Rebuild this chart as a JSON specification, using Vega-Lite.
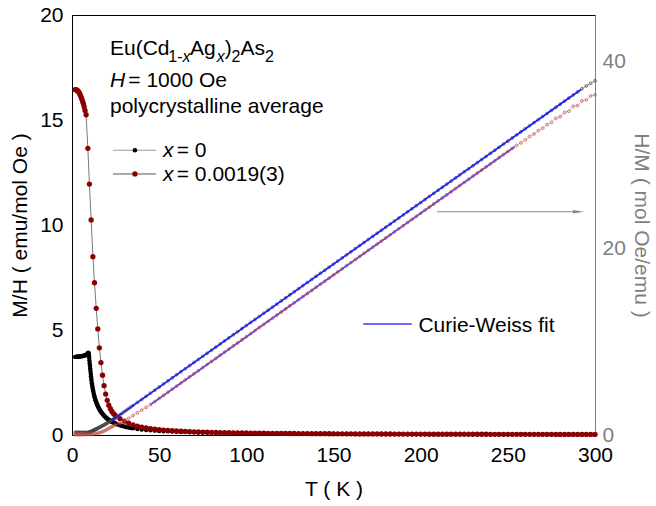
{
  "$schema": "https://vega.github.io/schema/vega-lite/v6.json",
  "width": 523,
  "height": 420,
  "autosize": {"type": "none"},
  "padding": {"left": 72, "top": 15, "right": 61, "bottom": 71},
  "background": "white",
  "config": {
    "font": "Liberation Sans",
    "view": {"stroke": "#000000", "strokeWidth": 1},
    "axis": {
      "labelFont": "Liberation Sans",
      "titleFont": "Liberation Sans",
      "labelFontSize": 21,
      "titleFontSize": 21,
      "titleFontWeight": "normal",
      "labelOverlap": false,
      "labelFlush": false,
      "ticks": false,
      "grid": false,
      "domainWidth": 1,
      "domainColor": "#000000",
      "labelColor": "#000000",
      "titleColor": "#000000"
    }
  },
  "datasets": {
    "x0": [{"T":1.8,"m":3.72,"h":0.269},{"T":2.2,"m":3.72,"h":0.269},{"T":2.6,"m":3.73,"h":0.268},{"T":3,"m":3.73,"h":0.268},{"T":3.4,"m":3.73,"h":0.268},{"T":3.8,"m":3.74,"h":0.267},{"T":4.2,"m":3.74,"h":0.267},{"T":4.6,"m":3.74,"h":0.267},{"T":5,"m":3.75,"h":0.267},{"T":5.4,"m":3.75,"h":0.267},{"T":5.8,"m":3.76,"h":0.266},{"T":6.2,"m":3.76,"h":0.266},{"T":6.6,"m":3.77,"h":0.265},{"T":7,"m":3.78,"h":0.265},{"T":7.4,"m":3.79,"h":0.264},{"T":7.8,"m":3.8,"h":0.263},{"T":8.2,"m":3.82,"h":0.262},{"T":8.6,"m":3.85,"h":0.26},{"T":9,"m":3.89,"h":0.257},{"T":9.4,"m":3.92,"h":0.255},{"T":9.55,"m":3.88,"h":0.258},{"T":9.7,"m":3.8,"h":0.263},{"T":9.85,"m":3.68,"h":0.272},{"T":10,"m":3.55,"h":0.282},{"T":10.15,"m":3.42,"h":0.292},{"T":10.3,"m":3.3,"h":0.303},{"T":10.45,"m":3.17,"h":0.315},{"T":10.6,"m":3.05,"h":0.328},{"T":10.75,"m":2.92,"h":0.342},{"T":10.9,"m":2.8,"h":0.357},{"T":11.05,"m":2.69,"h":0.372},{"T":11.2,"m":2.58,"h":0.388},{"T":11.4,"m":2.47,"h":0.405},{"T":11.6,"m":2.36,"h":0.424},{"T":11.8,"m":2.26,"h":0.442},{"T":12,"m":2.17,"h":0.461},{"T":12.25,"m":2.07,"h":0.483},{"T":12.5,"m":1.97,"h":0.508},{"T":12.75,"m":1.88,"h":0.532},{"T":13,"m":1.8,"h":0.556},{"T":13.25,"m":1.73,"h":0.578},{"T":13.5,"m":1.66,"h":0.602},{"T":13.75,"m":1.6,"h":0.625},{"T":14,"m":1.54,"h":0.649},{"T":14.3,"m":1.48,"h":0.676},{"T":14.6,"m":1.42,"h":0.704},{"T":14.9,"m":1.36,"h":0.735},{"T":15.2,"m":1.31,"h":0.763},{"T":15.55,"m":1.25,"h":0.8},{"T":15.9,"m":1.2,"h":0.833},{"T":16.25,"m":1.15,"h":0.87},{"T":16.6,"m":1.11,"h":0.901},{"T":17,"m":1.06,"h":0.943},{"T":17.4,"m":1.02,"h":0.98},{"T":17.8,"m":0.98,"h":1.02},{"T":18.2,"m":0.94,"h":1.064},{"T":18.6,"m":0.905,"h":1.105},{"T":19,"m":0.87,"h":1.149},{"T":19.45,"m":0.835,"h":1.198},{"T":19.9,"m":0.8,"h":1.25},{"T":20.35,"m":0.77,"h":1.299},{"T":20.8,"m":0.74,"h":1.351},{"T":21.3,"m":0.71,"h":1.408},{"T":21.8,"m":0.68,"h":1.471},{"T":22.3,"m":0.655,"h":1.527},{"T":22.8,"m":0.63,"h":1.587},{"T":23.4,"m":0.605,"h":1.653},{"T":24,"m":0.58,"h":1.724},{"T":24.5,"m":0.56,"h":1.786},{"T":25,"m":0.545,"h":1.835},{"T":26.2,"m":0.5,"h":2.0},{"T":27.5,"m":0.46,"h":2.17},{"T":28.7,"m":0.43,"h":2.33},{"T":30,"m":0.4,"h":2.5},{"T":31.2,"m":0.375,"h":2.67},{"T":32.5,"m":0.353,"h":2.83},{"T":33.7,"m":0.334,"h":2.99},{"T":35,"m":0.316,"h":3.16},{"T":37.5,"m":0.286,"h":3.49},{"T":40,"m":0.262,"h":3.82},{"T":42.5,"m":0.241,"h":4.15},{"T":45,"m":0.223,"h":4.48},{"T":47.5,"m":0.208,"h":4.81},{"T":50,"m":0.195,"h":5.14},{"T":52.5,"m":0.183,"h":5.47},{"T":55,"m":0.173,"h":5.8},{"T":57.5,"m":0.163,"h":6.13},{"T":60,"m":0.155,"h":6.46},{"T":62.5,"m":0.147,"h":6.79},{"T":65,"m":0.141,"h":7.11},{"T":67.5,"m":0.134,"h":7.44},{"T":70,"m":0.129,"h":7.77},{"T":72.5,"m":0.123,"h":8.1},{"T":75,"m":0.119,"h":8.43},{"T":77.5,"m":0.114,"h":8.76},{"T":80,"m":0.11,"h":9.09},{"T":82.5,"m":0.106,"h":9.42},{"T":85,"m":0.103,"h":9.75},{"T":87.5,"m":0.099,"h":10.08},{"T":90,"m":0.096,"h":10.41},{"T":92.5,"m":0.093,"h":10.74},{"T":95,"m":0.09,"h":11.07},{"T":97.5,"m":0.088,"h":11.4},{"T":100,"m":0.085,"h":11.73},{"T":102.5,"m":0.083,"h":12.06},{"T":105,"m":0.081,"h":12.38},{"T":107.5,"m":0.079,"h":12.71},{"T":110,"m":0.077,"h":13.04},{"T":112.5,"m":0.075,"h":13.37},{"T":115,"m":0.073,"h":13.7},{"T":117.5,"m":0.071,"h":14.03},{"T":120,"m":0.07,"h":14.36},{"T":122.5,"m":0.068,"h":14.69},{"T":125,"m":0.067,"h":15.02},{"T":127.5,"m":0.065,"h":15.35},{"T":130,"m":0.064,"h":15.68},{"T":132.5,"m":0.062,"h":16.01},{"T":135,"m":0.061,"h":16.34},{"T":137.5,"m":0.06,"h":16.67},{"T":140,"m":0.059,"h":17.0},{"T":142.5,"m":0.058,"h":17.33},{"T":145,"m":0.057,"h":17.66},{"T":147.5,"m":0.056,"h":17.98},{"T":150,"m":0.055,"h":18.31},{"T":152.5,"m":0.054,"h":18.64},{"T":155,"m":0.053,"h":18.97},{"T":157.5,"m":0.052,"h":19.3},{"T":160,"m":0.051,"h":19.63},{"T":162.5,"m":0.05,"h":19.96},{"T":165,"m":0.049,"h":20.29},{"T":167.5,"m":0.049,"h":20.62},{"T":170,"m":0.048,"h":20.95},{"T":172.5,"m":0.047,"h":21.28},{"T":175,"m":0.046,"h":21.61},{"T":177.5,"m":0.046,"h":21.94},{"T":180,"m":0.045,"h":22.27},{"T":182.5,"m":0.044,"h":22.6},{"T":185,"m":0.044,"h":22.93},{"T":187.5,"m":0.043,"h":23.25},{"T":190,"m":0.042,"h":23.58},{"T":192.5,"m":0.042,"h":23.91},{"T":195,"m":0.041,"h":24.24},{"T":197.5,"m":0.041,"h":24.57},{"T":200,"m":0.04,"h":24.9},{"T":202.5,"m":0.04,"h":25.23},{"T":205,"m":0.039,"h":25.56},{"T":207.5,"m":0.039,"h":25.89},{"T":210,"m":0.038,"h":26.22},{"T":212.5,"m":0.038,"h":26.55},{"T":215,"m":0.037,"h":26.88},{"T":217.5,"m":0.037,"h":27.21},{"T":220,"m":0.036,"h":27.54},{"T":222.5,"m":0.036,"h":27.87},{"T":225,"m":0.035,"h":28.2},{"T":227.5,"m":0.035,"h":28.52},{"T":230,"m":0.035,"h":28.85},{"T":232.5,"m":0.034,"h":29.18},{"T":235,"m":0.034,"h":29.51},{"T":237.5,"m":0.034,"h":29.84},{"T":240,"m":0.033,"h":30.17},{"T":242.5,"m":0.033,"h":30.5},{"T":245,"m":0.032,"h":30.83},{"T":247.5,"m":0.032,"h":31.16},{"T":250,"m":0.032,"h":31.49},{"T":252.5,"m":0.031,"h":31.82},{"T":255,"m":0.031,"h":32.15},{"T":257.5,"m":0.031,"h":32.48},{"T":260,"m":0.03,"h":32.81},{"T":262.5,"m":0.03,"h":33.14},{"T":265,"m":0.03,"h":33.47},{"T":267.5,"m":0.03,"h":33.79},{"T":270,"m":0.029,"h":34.12},{"T":272.5,"m":0.029,"h":34.45},{"T":275,"m":0.029,"h":34.78},{"T":277.5,"m":0.028,"h":35.11},{"T":280,"m":0.028,"h":35.44},{"T":282.5,"m":0.028,"h":35.77},{"T":285,"m":0.028,"h":36.1},{"T":287.5,"m":0.027,"h":36.43},{"T":290,"m":0.027,"h":36.76},{"T":292.5,"m":0.027,"h":37.09},{"T":295,"m":0.027,"h":37.4},{"T":297.5,"m":0.026,"h":37.68},{"T":300,"m":0.026,"h":37.95}],
    "x19": [{"T":1.8,"m":16.45,"h":0.061},{"T":2.2,"m":16.44,"h":0.061},{"T":2.6,"m":16.43,"h":0.061},{"T":3,"m":16.41,"h":0.061},{"T":3.4,"m":16.38,"h":0.061},{"T":3.8,"m":16.34,"h":0.061},{"T":4.2,"m":16.29,"h":0.061},{"T":4.6,"m":16.22,"h":0.062},{"T":5,"m":16.14,"h":0.062},{"T":5.4,"m":16.05,"h":0.062},{"T":5.8,"m":15.96,"h":0.063},{"T":6.2,"m":15.86,"h":0.063},{"T":6.6,"m":15.76,"h":0.063},{"T":7,"m":15.62,"h":0.064},{"T":7.5,"m":15.45,"h":0.065},{"T":8.1,"m":15.25,"h":0.066},{"T":9.1,"m":13.65,"h":0.073},{"T":10,"m":11.95,"h":0.084},{"T":11,"m":10.24,"h":0.098},{"T":12,"m":8.49,"h":0.118},{"T":12.9,"m":7.25,"h":0.138},{"T":13.9,"m":6.03,"h":0.166},{"T":14.8,"m":5.05,"h":0.198},{"T":15.7,"m":4.15,"h":0.241},{"T":16.6,"m":3.45,"h":0.29},{"T":17.5,"m":2.85,"h":0.351},{"T":18.4,"m":2.35,"h":0.426},{"T":19.3,"m":1.95,"h":0.513},{"T":20.2,"m":1.65,"h":0.606},{"T":21.1,"m":1.42,"h":0.704},{"T":22,"m":1.25,"h":0.8},{"T":22.9,"m":1.12,"h":0.893},{"T":23.8,"m":1.02,"h":0.98},{"T":24.7,"m":0.94,"h":1.064},{"T":27.5,"m":0.78,"h":1.28},{"T":30,"m":0.66,"h":1.52},{"T":32.5,"m":0.56,"h":1.79},{"T":35,"m":0.48,"h":2.08},{"T":37.5,"m":0.42,"h":2.38},{"T":40,"m":0.375,"h":2.67},{"T":42.5,"m":0.338,"h":2.96},{"T":45,"m":0.307,"h":3.25},{"T":47.5,"m":0.279,"h":3.59},{"T":50,"m":0.255,"h":3.92},{"T":52.5,"m":0.236,"h":4.25},{"T":55,"m":0.218,"h":4.58},{"T":57.5,"m":0.204,"h":4.91},{"T":60,"m":0.191,"h":5.24},{"T":62.5,"m":0.18,"h":5.57},{"T":65,"m":0.17,"h":5.9},{"T":67.5,"m":0.161,"h":6.23},{"T":70,"m":0.152,"h":6.56},{"T":72.5,"m":0.145,"h":6.89},{"T":75,"m":0.138,"h":7.22},{"T":77.5,"m":0.132,"h":7.55},{"T":80,"m":0.127,"h":7.88},{"T":82.5,"m":0.122,"h":8.21},{"T":85,"m":0.117,"h":8.55},{"T":87.5,"m":0.113,"h":8.88},{"T":90,"m":0.109,"h":9.21},{"T":92.5,"m":0.105,"h":9.54},{"T":95,"m":0.101,"h":9.87},{"T":97.5,"m":0.098,"h":10.2},{"T":100,"m":0.095,"h":10.53},{"T":102.5,"m":0.092,"h":10.86},{"T":105,"m":0.089,"h":11.19},{"T":107.5,"m":0.087,"h":11.52},{"T":110,"m":0.084,"h":11.85},{"T":112.5,"m":0.082,"h":12.18},{"T":115,"m":0.08,"h":12.51},{"T":117.5,"m":0.078,"h":12.84},{"T":120,"m":0.076,"h":13.17},{"T":122.5,"m":0.074,"h":13.5},{"T":125,"m":0.072,"h":13.84},{"T":127.5,"m":0.071,"h":14.17},{"T":130,"m":0.069,"h":14.5},{"T":132.5,"m":0.067,"h":14.83},{"T":135,"m":0.066,"h":15.16},{"T":137.5,"m":0.065,"h":15.49},{"T":140,"m":0.063,"h":15.82},{"T":142.5,"m":0.062,"h":16.15},{"T":145,"m":0.061,"h":16.48},{"T":147.5,"m":0.059,"h":16.81},{"T":150,"m":0.058,"h":17.14},{"T":152.5,"m":0.057,"h":17.47},{"T":155,"m":0.056,"h":17.8},{"T":157.5,"m":0.055,"h":18.14},{"T":160,"m":0.054,"h":18.47},{"T":162.5,"m":0.053,"h":18.8},{"T":165,"m":0.052,"h":19.13},{"T":167.5,"m":0.051,"h":19.46},{"T":170,"m":0.051,"h":19.79},{"T":172.5,"m":0.05,"h":20.12},{"T":175,"m":0.049,"h":20.45},{"T":177.5,"m":0.048,"h":20.78},{"T":180,"m":0.047,"h":21.11},{"T":182.5,"m":0.047,"h":21.44},{"T":185,"m":0.046,"h":21.77},{"T":187.5,"m":0.045,"h":22.1},{"T":190,"m":0.045,"h":22.43},{"T":192.5,"m":0.044,"h":22.77},{"T":195,"m":0.043,"h":23.1},{"T":197.5,"m":0.043,"h":23.43},{"T":200,"m":0.042,"h":23.76},{"T":202.5,"m":0.042,"h":24.09},{"T":205,"m":0.041,"h":24.42},{"T":207.5,"m":0.04,"h":24.75},{"T":210,"m":0.04,"h":25.08},{"T":212.5,"m":0.039,"h":25.41},{"T":215,"m":0.039,"h":25.74},{"T":217.5,"m":0.038,"h":26.07},{"T":220,"m":0.038,"h":26.4},{"T":222.5,"m":0.037,"h":26.73},{"T":225,"m":0.037,"h":27.06},{"T":227.5,"m":0.036,"h":27.39},{"T":230,"m":0.036,"h":27.73},{"T":232.5,"m":0.036,"h":28.06},{"T":235,"m":0.035,"h":28.39},{"T":237.5,"m":0.035,"h":28.72},{"T":240,"m":0.034,"h":29.05},{"T":242.5,"m":0.034,"h":29.38},{"T":245,"m":0.034,"h":29.71},{"T":247.5,"m":0.033,"h":30.04},{"T":250,"m":0.033,"h":30.37},{"T":252.5,"m":0.033,"h":30.7},{"T":255,"m":0.032,"h":31.03},{"T":257.5,"m":0.032,"h":31.3},{"T":260,"m":0.032,"h":31.62},{"T":262.5,"m":0.031,"h":31.98},{"T":265,"m":0.031,"h":32.25},{"T":267.5,"m":0.031,"h":32.62},{"T":270,"m":0.03,"h":32.88},{"T":272.5,"m":0.03,"h":33.25},{"T":275,"m":0.03,"h":33.5},{"T":277.5,"m":0.029,"h":33.92},{"T":280,"m":0.029,"h":34.1},{"T":282.5,"m":0.029,"h":34.55},{"T":285,"m":0.029,"h":34.7},{"T":287.5,"m":0.028,"h":35.22},{"T":290,"m":0.028,"h":35.3},{"T":292.5,"m":0.028,"h":35.8},{"T":295,"m":0.028,"h":35.9},{"T":297.5,"m":0.028,"h":36.32},{"T":300,"m":0.027,"h":36.45}],
    "fit": [{"s":"x0","T":22.8,"h":1.55},{"s":"x0","T":292,"h":37.02},{"s":"x19","T":45,"h":3.25},{"s":"x19","T":254,"h":30.9}],
    "tMajor": [{"T":0},{"T":50},{"T":100},{"T":150},{"T":200},{"T":250},{"T":300}],
    "tMinor": [{"T":25},{"T":75},{"T":125},{"T":175},{"T":225},{"T":275}],
    "mTicks": [{"m":2.5},{"m":5},{"m":7.5},{"m":10},{"m":12.5},{"m":15},{"m":17.5}],
    "hTicks": [{"h":10},{"h":20},{"h":30},{"h":40}],
    "legLineA": [{"T":23.5,"T2":48.2,"m":13.56}],
    "legLineB": [{"T":23.5,"T2":48.2,"m":12.43}],
    "legDotA": [{"T":36.1,"m":13.56}],
    "legDotB": [{"T":36.1,"m":12.43}],
    "cwLine": [{"T":167.1,"T2":194.9,"m":5.29}],
    "arrowLine": [{"T":209.4,"T2":290.5,"m":10.63}],
    "arrowHead": [{"T":290.5,"m":10.63}],
    "txtN": [{"T":21.8,"m":18.1,"label":"Eu(Cd"},{"T":67.7,"m":18.1,"label":"Ag"},{"T":87.6,"m":18.1,"label":")"},{"T":96.6,"m":18.1,"label":"As"},{"T":32.3,"m":16.56,"label":"= 1000 Oe"},{"T":21.8,"m":15.33,"label":"polycrystalline average"},{"T":60.1,"m":13.22,"label":"= 0"},{"T":60.1,"m":12.08,"label":"= 0.0019(3)"},{"T":198.7,"m":4.92,"label":"Curie-Weiss fit"}],
    "txtI": [{"T":21.8,"m":16.56,"label":"H"},{"T":52.2,"m":13.22,"label":"x"},{"T":52.2,"m":12.08,"label":"x"}],
    "txtSub": [{"T":55.2,"m":17.76,"label":"1-"},{"T":91.5,"m":17.76,"label":"2"},{"T":110.7,"m":17.76,"label":"2"}],
    "txtSubI": [{"T":63.4,"m":17.76,"label":"x"},{"T":83.0,"m":17.76,"label":"x"}]
  },
  "layer": [
    {
      "encoding": {
        "x": {
          "field": "T", "type": "quantitative",
          "scale": {"domain": [0, 300], "nice": false},
          "axis": {
            "orient": "bottom", "title": "T ( K )",
            "values": [0,50,100,150,200,250,300],
            "labelPadding": 9, "titlePadding": 13
          }
        },
        "y": {
          "field": "m", "type": "quantitative",
          "scale": {"domain": [0, 20], "nice": false},
          "axis": {
            "orient": "left", "title": "M/H ( emu/mol Oe )",
            "values": [0,5,10,15,20],
            "labelPadding": 9, "titlePadding": 9
          }
        }
      },
      "layer": [
        {"data": {"name": "tMajor"}, "mark": {"type": "rule", "color": "#000000", "strokeWidth": 1}, "encoding": {"y": {"datum": 0}, "y2": {"datum": 0.33}}},
        {"data": {"name": "tMinor"}, "mark": {"type": "rule", "color": "#000000", "strokeWidth": 1}, "encoding": {"y": {"datum": 0}, "y2": {"datum": 0.19}}},
        {"data": {"name": "tMajor"}, "mark": {"type": "rule", "color": "#000000", "strokeWidth": 1}, "encoding": {"y": {"datum": 20}, "y2": {"datum": 19.67}}},
        {"data": {"name": "tMinor"}, "mark": {"type": "rule", "color": "#000000", "strokeWidth": 1}, "encoding": {"y": {"datum": 20}, "y2": {"datum": 19.81}}},
        {"data": {"name": "mTicks"}, "mark": {"type": "rule", "color": "#000000", "strokeWidth": 1}, "encoding": {"x": {"datum": 0}, "x2": {"datum": 3.15}}},
        {"data": {"name": "x0"}, "mark": {"type": "line", "color": "#9a9a9a", "strokeWidth": 0.8}},
        {"data": {"name": "x0"}, "mark": {"type": "circle", "color": "#000000", "size": 20, "opacity": 1}},
        {"data": {"name": "x19"}, "mark": {"type": "line", "color": "#555555", "strokeWidth": 0.8}},
        {"data": {"name": "x19"}, "mark": {"type": "circle", "color": "#8b0000", "size": 28, "opacity": 1}},
        {"data": {"name": "legLineA"}, "mark": {"type": "rule", "color": "#9a9a9a", "strokeWidth": 1}, "encoding": {"x2": {"field": "T2"}}},
        {"data": {"name": "legLineB"}, "mark": {"type": "rule", "color": "#555555", "strokeWidth": 1}, "encoding": {"x2": {"field": "T2"}}},
        {"data": {"name": "legDotA"}, "mark": {"type": "circle", "color": "#000000", "size": 22, "opacity": 1}},
        {"data": {"name": "legDotB"}, "mark": {"type": "circle", "color": "#8b0000", "size": 28, "opacity": 1}},
        {"data": {"name": "cwLine"}, "mark": {"type": "rule", "color": "#3a3aff", "strokeWidth": 1.5}, "encoding": {"x2": {"field": "T2"}}},
        {"data": {"name": "arrowLine"}, "mark": {"type": "rule", "color": "#888888", "strokeWidth": 1.2}, "encoding": {"x2": {"field": "T2"}}},
        {"data": {"name": "arrowHead"}, "mark": {"type": "point", "shape": "M -1 -0.3 L 1 0 L -1 0.3 Z", "size": 121, "filled": true, "color": "#888888", "opacity": 1}},
        {"data": {"name": "txtN"}, "mark": {"type": "text", "align": "left", "baseline": "alphabetic", "font": "Liberation Sans", "fontSize": 21, "color": "#000000"}, "encoding": {"text": {"field": "label"}}},
        {"data": {"name": "txtI"}, "mark": {"type": "text", "align": "left", "baseline": "alphabetic", "font": "Liberation Sans", "fontSize": 21, "fontStyle": "italic", "color": "#000000"}, "encoding": {"text": {"field": "label"}}},
        {"data": {"name": "txtSub"}, "mark": {"type": "text", "align": "left", "baseline": "alphabetic", "font": "Liberation Sans", "fontSize": 16, "color": "#000000"}, "encoding": {"text": {"field": "label"}}},
        {"data": {"name": "txtSubI"}, "mark": {"type": "text", "align": "left", "baseline": "alphabetic", "font": "Liberation Sans", "fontSize": 16, "fontStyle": "italic", "color": "#000000"}, "encoding": {"text": {"field": "label"}}}
      ]
    },
    {
      "encoding": {
        "x": {
          "field": "T", "type": "quantitative",
          "scale": {"domain": [0, 300], "nice": false}
        },
        "y": {
          "field": "h", "type": "quantitative",
          "scale": {"domain": [0, 45], "nice": false},
          "axis": {
            "orient": "right", "title": "H/M ( mol Oe/emu )",
            "values": [0,20,40],
            "labelPadding": 7, "titlePadding": 5,
            "domainColor": "#808080", "labelColor": "#808080", "titleColor": "#808080"
          }
        }
      },
      "layer": [
        {"data": {"name": "hTicks"}, "mark": {"type": "rule", "color": "#808080", "strokeWidth": 1}, "encoding": {"x": {"datum": 300}, "x2": {"datum": 296.85}}},
        {"data": {"name": "x0"}, "mark": {"type": "line", "color": "#555555", "strokeWidth": 0.6}},
        {"data": {"name": "x0"}, "mark": {"type": "point", "filled": false, "color": "#444444", "size": 8, "strokeWidth": 0.7, "opacity": 1}},
        {"data": {"name": "fit"}, "mark": {"type": "line", "color": "#1a1aff", "strokeWidth": 1.6}, "encoding": {"detail": {"field": "s"}}},
        {"data": {"name": "x19"}, "mark": {"type": "line", "color": "#d08a8a", "strokeWidth": 0.6}},
        {"data": {"name": "x19"}, "mark": {"type": "point", "filled": false, "color": "#c04848", "size": 8, "strokeWidth": 0.7, "opacity": 1}}
      ]
    }
  ],
  "resolve": {"scale": {"y": "independent"}}
}
